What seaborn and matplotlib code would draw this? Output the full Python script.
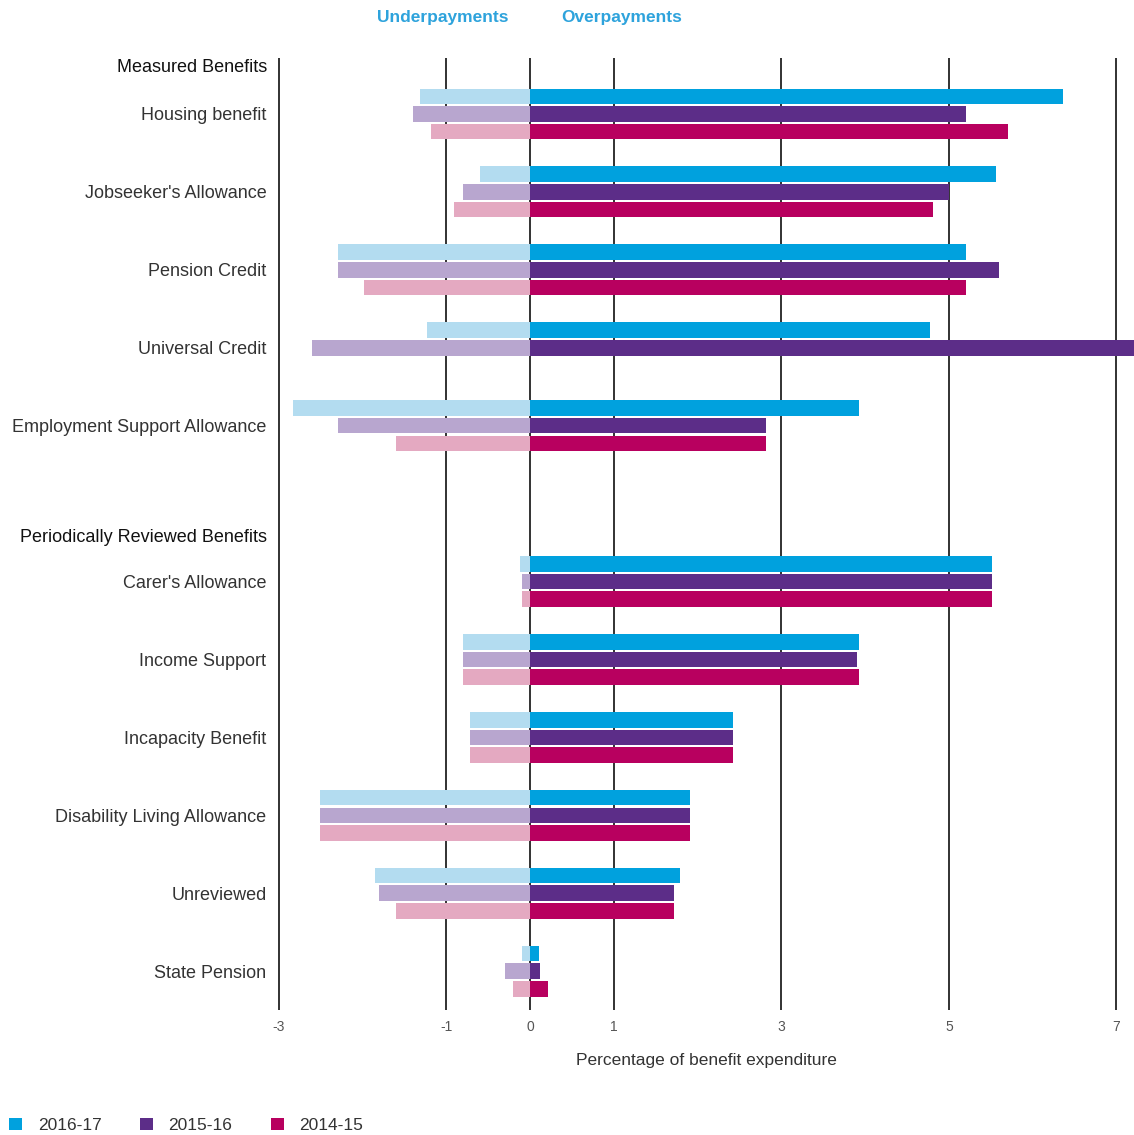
#!/usr/bin/env python3
"""Benefit fraud and error: under- and overpayments by benefit, three years."""

import matplotlib

matplotlib.use("Agg")
import matplotlib.pyplot as plt
import matplotlib.transforms as mtransforms
import numpy as np
import pandas as pd
import seaborn as sns
from matplotlib.patches import Patch

BENEFITS = [
    "Housing benefit",
    "Jobseeker's Allowance",
    "Pension Credit",
    "Universal Credit",
    "Employment Support Allowance",
    "Carer's Allowance",
    "Income Support",
    "Incapacity Benefit",
    "Disability Living Allowance",
    "Unreviewed",
    "State Pension",
]
YEARS = ["2016-17", "2015-16", "2014-15"]

# underpayments (negative) and overpayments, % of benefit expenditure
UNDER_1617 = [-1.31, -0.60, -2.30, -1.23, -2.83, -0.12, -0.80, -0.72, -2.51, -1.85, -0.10]
UNDER_1516 = [-1.40, -0.80, -2.30, -2.61, -2.30, -0.10, -0.80, -0.72, -2.51, -1.80, -0.30]
UNDER_1415 = [-1.19, -0.91, -1.99, np.nan, -1.60, -0.10, -0.80, -0.72, -2.51, -1.60, -0.20]
OVER_1617 = [6.36, 5.56, 5.20, 4.77, 3.93, 5.51, 3.93, 2.42, 1.91, 1.79, 0.11]
OVER_1516 = [5.20, 5.00, 5.60, 7.60, 2.82, 5.51, 3.90, 2.42, 1.91, 1.72, 0.12]
OVER_1415 = [5.70, 4.81, 5.20, np.nan, 2.82, 5.51, 3.93, 2.42, 1.91, 1.72, 0.21]

DARK = ["#00a1de", "#5c2d88", "#b8005f"]
LIGHT = ["#b3dcf0", "#b8a6cf", "#e4a9c1"]
TEXT = "#333333"
XTICKS = [-3, -1, 0, 1, 3, 5, 7]

SPACER = " "
ORDER = BENEFITS[:5] + [SPACER] + BENEFITS[5:]


def build_frame() -> pd.DataFrame:
    rows = []
    unders = [UNDER_1617, UNDER_1516, UNDER_1415]
    overs = [OVER_1617, OVER_1516, OVER_1415]
    for year, under, over in zip(YEARS, unders, overs):
        for name, u, o in zip(BENEFITS, under, over):
            rows.append({"benefit": name, "year": year, "under": u, "over": o})
    return pd.DataFrame(rows).dropna()


def main() -> None:
    sns.set_theme(style="white")
    plt.rcParams["font.family"] = ["Liberation Sans", "DejaVu Sans"]
    df = build_frame()

    fig = plt.figure(figsize=(11.34, 11.35), dpi=100)
    ax = fig.add_axes([0.246, 0.110, 0.754, 0.839])

    common = dict(y="benefit", hue="year", order=ORDER, hue_order=YEARS, orient="h",
                  width=0.68, gap=0.12, errorbar=None, saturation=1, legend=False,
                  linewidth=0, ax=ax)
    sns.barplot(data=df, x="under", palette=LIGHT, **common)
    sns.barplot(data=df, x="over", palette=DARK, **common)

    ylo, yhi = 11.5, -0.72
    ax.set_xlim(-3, 7.21)
    ax.set_ylim(ylo, yhi)
    ax.vlines(XTICKS, ylo, yhi, colors="#222222", linewidth=1.3, zorder=0.5, clip_on=False)
    for s in ax.spines.values():
        s.set_visible(False)

    ax.set_xticks(XTICKS)
    ax.set_xticklabels([str(t) for t in XTICKS], fontsize=10, color="#555555")
    ax.tick_params(axis="x", length=0, pad=7)
    ax.set_yticks(range(len(ORDER)))
    ax.set_yticklabels(ORDER, fontsize=13, color=TEXT)
    ax.tick_params(axis="y", length=0, pad=9)
    ax.set_ylabel("")
    ax.set_xlabel("Percentage of benefit expenditure", fontsize=12.5, color=TEXT, labelpad=14)

    # group headers
    ytrans = mtransforms.blended_transform_factory(ax.transAxes, ax.transData)
    for label, ypos in [("Measured Benefits", -0.60), ("Periodically Reviewed Benefits", 5.43)]:
        ax.text(-0.0137, ypos, label, transform=ytrans, ha="right", va="center",
                fontsize=13, color="#111111")

    # top captions
    xtrans = mtransforms.blended_transform_factory(ax.transData, fig.transFigure)
    ax.text(-1.05, 0.985, "Underpayments", transform=xtrans, ha="center", va="center",
            fontsize=12.5, fontweight="bold", color="#2ea3dc")
    ax.text(1.09, 0.985, "Overpayments", transform=xtrans, ha="center", va="center",
            fontsize=12.5, fontweight="bold", color="#2ea3dc")

    handles = [Patch(facecolor=c, edgecolor="none", label=y) for c, y in zip(DARK, YEARS)]
    fig.legend(handles=handles, loc="lower left", bbox_to_anchor=(-0.0055, -0.012), ncol=3,
               frameon=False, fontsize=12.5, handlelength=0.75, handleheight=0.75,
               handletextpad=0.9, columnspacing=2.2, labelcolor=TEXT)

    fig.savefig("out.png", dpi=100, facecolor="white")
    plt.close(fig)


if __name__ == "__main__":
    main()
